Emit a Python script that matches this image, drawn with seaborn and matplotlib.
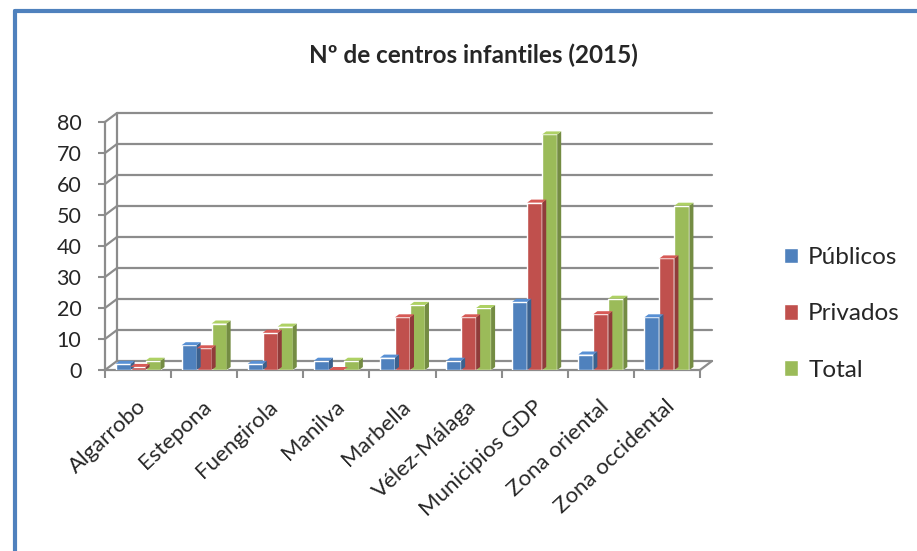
import matplotlib
matplotlib.use("Agg")
import matplotlib.pyplot as plt
import matplotlib.transforms as mtransforms
from matplotlib.patches import Polygon
import seaborn as sns
import pandas as pd
import numpy as np

# Data
categories = ["Algarrobo", "Estepona", "Fuengirola", "Manilva", "Marbella",
              "Vélez-Málaga", "Municipios GDP", "Zona oriental", "Zona occidental"]
publicos = [2, 8, 2, 3, 4, 3, 22, 5, 17]
privados = [1, 7, 12, 0, 17, 17, 54, 18, 36]
total = [3, 15, 14, 3, 21, 20, 76, 23, 53]
series = ["Públicos", "Privados", "Total"]
colors = ["#4F81BD", "#C0504D", "#9BBB59"]
yticks = [0, 10, 20, 30, 40, 50, 60, 70, 80]

df = pd.DataFrame({
    "categoria": categories * 3,
    "serie": [s for s in series for _ in categories],
    "valor": publicos + privados + total,
})

sns.set_theme(style="white")
plt.rcParams['font.family'] = ['Lato', 'DejaVu Sans']

W, H = 917, 551
fig = plt.figure(figsize=(W / 100, H / 100), dpi=100)
ax = fig.add_axes([105 / W, 1 - 370 / H, 595 / W, 248 / H])

sns.barplot(data=df, x="categoria", y="valor", hue="serie", palette=colors,
            width=0.68, saturation=1, ax=ax, zorder=3, legend=True)
ax.set_xlim(-0.5, 8.5)
ax.set_ylim(0, 80)

grid_col = "#8C8C8C"
dx, dy = 12, 9  # depth offset of the back wall in pixels
back = mtransforms.offset_copy(ax.transData, fig=fig, x=dx, y=dy, units="dots")

# back wall gridlines + diagonal connectors from the front axis
fig.canvas.draw()
for v in yticks:
    ax.plot([-0.5, 8.5], [v, v], color=grid_col, lw=1.6, transform=back, zorder=0, clip_on=False)
    p0 = ax.transData.transform((-0.5, v))
    fig.add_artist(plt.Line2D([p0[0], p0[0] + dx], [p0[1], p0[1] + dy], transform=None,
                              color=grid_col, lw=1.6, zorder=0))
ax.plot([-0.5, -0.5], [0, 80], color=grid_col, lw=1.6, transform=back, zorder=0, clip_on=False)
p1 = ax.transData.transform((8.5, 0))
fig.add_artist(plt.Line2D([p1[0], p1[0] + dx], [p1[1], p1[1] + dy], transform=None,
                          color=grid_col, lw=1.6, zorder=0))

# give the bars a little depth
depth_x, depth_y = 4, 3
for patch in ax.patches:
    x, w, h = patch.get_x(), patch.get_width(), patch.get_height()
    if w <= 0 or np.isnan(h):
        continue
    fc = np.array(patch.get_facecolor()[:3])
    (x0, y0) = ax.transData.transform((x, 0))
    (x1, y1) = ax.transData.transform((x + w, h))
    side = Polygon([(x1, y0), (x1 + depth_x, y0 + depth_y), (x1 + depth_x, y1 + depth_y), (x1, y1)],
                   closed=True, transform=None, facecolor=fc * 0.75, edgecolor="none", zorder=4)
    top = Polygon([(x0, y1), (x0 + depth_x, y1 + depth_y), (x1 + depth_x, y1 + depth_y), (x1, y1)],
                  closed=True, transform=None, facecolor=np.minimum(fc * 1.12, 1), edgecolor="none", zorder=4)
    fig.add_artist(side)
    fig.add_artist(top)

ax.set_yticks(yticks)
ax.set_yticklabels([str(v) for v in yticks], fontsize=15.5)
ax.set_xticks(range(len(categories)))
ax.set_xticklabels(categories, rotation=43, ha="right", rotation_mode="anchor", fontsize=16)
ax.set_xticks(np.arange(-0.5, 9, 1), minor=True)
ax.tick_params(axis="y", length=5, width=1.5, color=grid_col, pad=12, left=True)
ax.tick_params(axis="x", which="major", length=0, pad=19)
ax.tick_params(axis="x", which="minor", length=6, width=1.5, color=grid_col, bottom=True)
for lbl in ax.get_xticklabels():
    lbl.set_transform(lbl.get_transform() + mtransforms.ScaledTranslation(-2 / 100, 0, fig.dpi_scale_trans))
ax.set_xlabel("")
ax.set_ylabel("")
for s in ["top", "right"]:
    ax.spines[s].set_visible(False)
ax.spines["left"].set_color(grid_col)
ax.spines["left"].set_linewidth(1.6)
ax.spines["bottom"].set_color(grid_col)
ax.spines["bottom"].set_linewidth(1.6)
ax.patch.set_alpha(0)

handles, labels = ax.get_legend_handles_labels()
ax.legend(handles, labels, loc="center left", bbox_to_anchor=(762 / W, 1 - 314 / H),
          bbox_transform=fig.transFigure, frameon=False, fontsize=17.5,
          labelspacing=1.45, handlelength=0.6, handleheight=0.6, handletextpad=0.4)

fig.text(473 / W, 1 - 55 / H, "Nº de centros infantiles (2015)", ha="center", va="center",
         fontsize=17.5, fontweight="bold")

# blue chart frame (left and top edges)
fig.add_artist(plt.Line2D([15 / W, 15 / W], [0, 1 - 11 / H], transform=fig.transFigure,
                          color="#4F81BD", lw=3))
fig.add_artist(plt.Line2D([15 / W, 1], [1 - 11 / H, 1 - 11 / H], transform=fig.transFigure,
                          color="#4F81BD", lw=3))

fig.savefig("out.png", dpi=100)
